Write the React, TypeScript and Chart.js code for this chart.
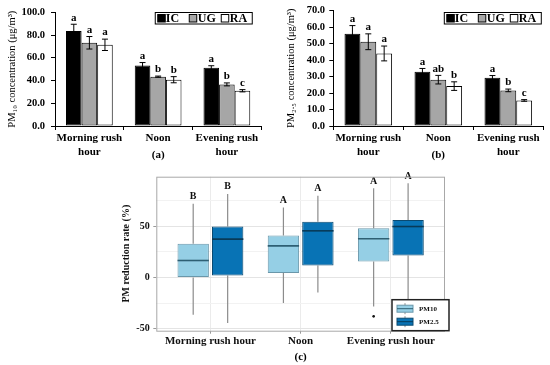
import React, { useEffect, useRef } from "react";
import { Chart, registerables } from "chart.js";
Chart.register(...registerables);

const SERIF = "'Liberation Serif', 'Times New Roman', serif";

// ---------- (a) / (b) bar panels ----------
const periodLabels = [["Morning rush", "hour"], ["Noon"], ["Evening rush", "hour"]];
const siteNames = ["IC", "UG", "RA"];
const siteColors = ["#000000", "#A6A6A6", "#FFFFFF"];

const pm10IC = [83.5, 53.3, 51.2];
const pm10UG = [73.2, 43.4, 36.6];
const pm10RA = [71.4, 40.7, 31.0];
const pm10ICErr = [6.0, 2.5, 1.8];
const pm10UGErr = [5.5, 0.5, 1.3];
const pm10RAErr = [5.0, 2.7, 1.0];
const pm10ICSig = ["a", "a", "a"];
const pm10UGSig = ["a", "b", "b"];
const pm10RASig = ["a", "b", "c"];
const pm10Ticks = [0, 20, 40, 60, 80, 100];

const pm25IC = [55.9, 32.9, 29.2];
const pm25UG = [51.1, 28.1, 21.6];
const pm25RA = [44.0, 24.2, 15.5];
const pm25ICErr = [5.0, 2.0, 1.4];
const pm25UGErr = [4.8, 2.6, 0.8];
const pm25RAErr = [4.5, 2.6, 0.5];
const pm25ICSig = ["a", "a", "a"];
const pm25UGSig = ["a", "ab", "b"];
const pm25RASig = ["a", "b", "c"];
const pm25Ticks = [0, 10, 20, 30, 40, 50, 60, 70];

// ---------- (c) box plot ----------
const boxPeriods = ["Morning rush hour", "Noon", "Evening rush hour"];
const boxSeries = ["PM10", "PM2.5"];
const pm10Min = [-36.4, -25.0, -28.3];
const pm10Q1 = [0.0, 4.3, 15.6];
const pm10Med = [16.6, 30.9, 37.8];
const pm10Q3 = [32.9, 41.0, 48.2];
const pm10Max = [72.0, 68.3, 87.3];
const pm10Outliers = [[], [], [-38.0]];
const pm10BoxSig = ["B", "A", "A"];
const pm25Min = [-44.5, -14.7, -30.0];
const pm25Q1 = [2.0, 11.7, 21.5];
const pm25Med = [37.5, 45.6, 49.8];
const pm25Q3 = [49.8, 54.4, 56.3];
const pm25Max = [81.7, 80.0, 92.1];
const pm25Outliers = [[], [], []];
const pm25BoxSig = ["B", "A", "A"];
const boxTicksY = [-50, -25, 0, 25, 50, 75];

type BarPanel = {
  values: number[][];
  errors: number[][];
  sig: string[][];
  ticks: number[];
  max: number;
  yTitle: string;
  yWidth: number;
  padRight: number;
  tickPad: number;
  titlePad: number;
  panel: string;
  legendRightInset: number;
};

function barExtras(p: BarPanel) {
  return {
    id: "barExtras",
    afterDatasetsDraw(chart: any) {
      const { ctx } = chart;
      const y = chart.scales.y;
      ctx.save();
      chart.data.datasets.forEach((ds: any, di: number) => {
        const meta = chart.getDatasetMeta(di);
        meta.data.forEach((el: any, j: number) => {
          const v = ds.data[j];
          const e = p.errors[di][j];
          const top = y.getPixelForValue(v + e);
          const bot = y.getPixelForValue(v - e);
          ctx.strokeStyle = "#000";
          ctx.lineWidth = 1;
          ctx.beginPath();
          ctx.moveTo(el.x, top);
          ctx.lineTo(el.x, bot);
          ctx.moveTo(el.x - 3, top);
          ctx.lineTo(el.x + 3, top);
          ctx.moveTo(el.x - 3, bot);
          ctx.lineTo(el.x + 3, bot);
          ctx.stroke();
          ctx.fillStyle = "#000";
          ctx.font = `bold 11px ${SERIF}`;
          ctx.textAlign = "center";
          ctx.textBaseline = "bottom";
          ctx.fillText(p.sig[di][j], el.x, top - 1);
        });
      });
      ctx.restore();
    },
    afterDraw(chart: any) {
      const { ctx, chartArea } = chart;
      ctx.save();
      // legend
      const w = 97;
      const h = 11.5;
      const lx = chartArea.right - p.legendRightInset - w;
      const ly = 12.5;
      ctx.fillStyle = "#fff";
      ctx.fillRect(lx, ly, w, h);
      ctx.strokeStyle = "#000";
      ctx.lineWidth = 1;
      ctx.strokeRect(lx, ly, w, h);
      const sqOff = [2.5, 34, 66];
      const txOff = [10.5, 42.5, 74.5];
      siteNames.forEach((name, i) => {
        ctx.fillStyle = siteColors[i];
        ctx.fillRect(lx + sqOff[i], ly + 2, 7.5, 7.5);
        ctx.strokeStyle = "#000";
        ctx.strokeRect(lx + sqOff[i], ly + 2, 7.5, 7.5);
        ctx.fillStyle = "#000";
        ctx.font = `bold 12px ${SERIF}`;
        ctx.textAlign = "left";
        ctx.textBaseline = "middle";
        ctx.fillText(name, lx + txOff[i], ly + h / 2 + 0.5);
      });
      // panel label
      ctx.font = `bold 11px ${SERIF}`;
      ctx.textAlign = "center";
      ctx.textBaseline = "middle";
      ctx.fillText(p.panel, chart.scales.x.getPixelForValue(1), chartArea.bottom + 29);
      ctx.restore();
    },
  };
}

function barConfig(p: BarPanel): any {
  return {
    type: "bar",
    data: {
      labels: periodLabels,
      datasets: p.values.map((vals, i) => ({
        label: siteNames[i],
        data: vals,
        backgroundColor: siteColors[i],
        borderColor: "#000",
        borderWidth: 1,
        borderSkipped: false,
        categoryPercentage: 0.68,
        barPercentage: 1,
      })),
    },
    options: {
      responsive: false,
      animation: false,
      devicePixelRatio: 1,
      layout: { padding: { top: 7, right: p.padRight, left: 0, bottom: 0 } },
      plugins: { legend: { display: false }, tooltip: { enabled: false } },
      scales: {
        x: {
          grid: { offset: true, drawOnChartArea: false, tickLength: 4, color: "#000" },
          border: { color: "#000" },
          ticks: {
            font: { family: SERIF, weight: "bold", size: 11, lineHeight: 1.27 },
            color: "#000",
            padding: 1,
            maxRotation: 0,
            autoSkip: false,
          },
          afterFit: (s: any) => {
            s.height = 44;
          },
        },
        y: {
          min: 0,
          max: p.max,
          afterBuildTicks: (s: any) => {
            s.ticks = p.ticks.map((v) => ({ value: v }));
          },
          ticks: {
            callback: (v: any) => Number(v).toFixed(1),
            font: { family: SERIF, weight: "bold", size: 10.5 },
            color: "#000",
            padding: p.tickPad,
          },
          grid: { drawOnChartArea: false, tickLength: 4, color: "#000" },
          border: { color: "#000" },
          title: {
            display: true,
            text: p.yTitle,
            font: { family: SERIF, size: 10.5 },
            color: "#000",
            padding: { top: p.titlePad, bottom: 0 },
          },
          afterFit: (s: any) => {
            s.width = p.yWidth;
          },
        },
      },
    },
    plugins: [barExtras(p)],
  };
}

const boxFill = ["#95CFE5", "#0873B5"];
const boxBorder = ["#6A97AA", "#0B4A70"];
const boxMedian = ["#2E5F73", "#083A58"];

function boxExtras() {
  const mins = [pm10Min, pm25Min];
  const maxs = [pm10Max, pm25Max];
  const meds = [pm10Med, pm25Med];
  const outs = [pm10Outliers, pm25Outliers];
  const sigs = [pm10BoxSig, pm25BoxSig];
  const q1s = [pm10Q1, pm25Q1];
  const q3s = [pm10Q3, pm25Q3];
  return {
    id: "boxExtras",
    beforeDatasetsDraw(chart: any) {
      const { ctx } = chart;
      const y = chart.scales.y;
      ctx.save();
      ctx.strokeStyle = "#8C8C8C";
      ctx.lineWidth = 1.2;
      chart.data.datasets.forEach((_ds: any, di: number) => {
        chart.getDatasetMeta(di).data.forEach((el: any, j: number) => {
          ctx.beginPath();
          ctx.moveTo(el.x, y.getPixelForValue(q3s[di][j]));
          ctx.lineTo(el.x, y.getPixelForValue(maxs[di][j]));
          ctx.moveTo(el.x, y.getPixelForValue(q1s[di][j]));
          ctx.lineTo(el.x, y.getPixelForValue(mins[di][j]));
          ctx.stroke();
        });
      });
      ctx.restore();
    },
    afterDatasetsDraw(chart: any) {
      const { ctx } = chart;
      const y = chart.scales.y;
      ctx.save();
      chart.data.datasets.forEach((_ds: any, di: number) => {
        chart.getDatasetMeta(di).data.forEach((el: any, j: number) => {
          const my = y.getPixelForValue(meds[di][j]);
          ctx.strokeStyle = boxMedian[di];
          ctx.lineWidth = 1.6;
          ctx.beginPath();
          ctx.moveTo(el.x - el.width / 2, my);
          ctx.lineTo(el.x + el.width / 2, my);
          ctx.stroke();
          ctx.fillStyle = "#111";
          outs[di][j].forEach((o: number) => {
            ctx.beginPath();
            ctx.arc(el.x, y.getPixelForValue(o), 1.3, 0, Math.PI * 2);
            ctx.fill();
          });
          ctx.font = `bold 10px ${SERIF}`;
          ctx.textAlign = "center";
          ctx.textBaseline = "bottom";
          ctx.fillText(sigs[di][j], el.x, y.getPixelForValue(maxs[di][j]) - 2);
        });
      });
      ctx.restore();
    },
    afterDraw(chart: any) {
      const { ctx, chartArea } = chart;
      ctx.save();
      ctx.strokeStyle = "#A8A8A8";
      ctx.lineWidth = 1;
      ctx.strokeRect(chartArea.left + 0.5, chartArea.top + 0.5, chartArea.right - chartArea.left - 1, chartArea.bottom - chartArea.top);
      // legend
      const w = 57;
      const h = 31;
      const lx = chartArea.right + 4 - w;
      const ly = chartArea.bottom - h;
      ctx.fillStyle = "#fff";
      ctx.fillRect(lx, ly, w, h);
      ctx.strokeStyle = "#222";
      ctx.lineWidth = 1.5;
      ctx.strokeRect(lx, ly, w, h);
      boxSeries.forEach((name, i) => {
        const cy = ly + 9 + i * 13;
        const gx = lx + 5;
        ctx.strokeStyle = "#8C8C8C";
        ctx.lineWidth = 1;
        ctx.beginPath();
        ctx.moveTo(gx + 8, cy - 5.5);
        ctx.lineTo(gx + 8, cy + 5.5);
        ctx.stroke();
        ctx.fillStyle = boxFill[i];
        ctx.fillRect(gx, cy - 3.5, 16, 7);
        ctx.strokeStyle = boxBorder[i];
        ctx.strokeRect(gx, cy - 3.5, 16, 7);
        ctx.strokeStyle = boxMedian[i];
        ctx.beginPath();
        ctx.moveTo(gx, cy);
        ctx.lineTo(gx + 16, cy);
        ctx.stroke();
        ctx.fillStyle = "#111";
        ctx.font = `bold 7px ${SERIF}`;
        ctx.textAlign = "left";
        ctx.textBaseline = "middle";
        ctx.fillText(name, lx + 27, cy + 0.5);
      });
      ctx.fillStyle = "#000";
      ctx.font = `bold 11px ${SERIF}`;
      ctx.textAlign = "center";
      ctx.textBaseline = "middle";
      ctx.fillText("(c)", chart.scales.x.getPixelForValue(2), chartArea.bottom + 26);
      ctx.restore();
    },
  };
}

function boxConfig(): any {
  const q1s = [pm10Q1, pm25Q1];
  const q3s = [pm10Q3, pm25Q3];
  return {
    type: "bar",
    data: {
      datasets: boxSeries.map((name, i) => ({
        label: name,
        data: boxPeriods.map((_, j) => ({ x: j + 1, y: [q1s[i][j], q3s[i][j]] })),
        backgroundColor: boxFill[i],
        borderColor: boxBorder[i],
        borderWidth: 1,
        borderSkipped: false,
        categoryPercentage: 0.764,
        barPercentage: 0.91,
      })),
    },
    options: {
      responsive: false,
      animation: false,
      devicePixelRatio: 1,
      layout: { padding: { top: 11.7, right: 7, left: 0, bottom: 0 } },
      plugins: { legend: { display: false }, tooltip: { enabled: false } },
      scales: {
        x: {
          type: "linear",
          min: 0.4,
          max: 3.6,
          offset: false,
          afterBuildTicks: (s: any) => {
            s.ticks = boxPeriods.map((_, j) => ({ value: j + 1 }));
          },
          ticks: {
            callback: (v: any) => boxPeriods[Math.round(Number(v)) - 1] ?? "",
            font: { family: SERIF, weight: "bold", size: 11, lineHeight: 1.2 },
            color: "#111",
            padding: 1,
            maxRotation: 0,
            autoSkip: false,
          },
          grid: { offset: false, color: "#EBEBEB", tickColor: "#9A9A9A", tickLength: 3 },
          border: { display: false },
          afterFit: (s: any) => {
            s.height = 34.3;
          },
        },
        y: {
          min: -52,
          max: 98.5,
          afterBuildTicks: (s: any) => {
            s.ticks = boxTicksY.map((v) => ({ value: v }));
          },
          ticks: {
            callback: (v: any) => (Number(v) % 50 === 0 ? String(v) : ""),
            font: { family: SERIF, weight: "bold", size: 10 },
            color: "#111",
            padding: 3.6,
          },
          grid: {
            color: (c: any) => (c.tick && c.tick.value % 50 === 0 ? "#E4E4E4" : "#F2F2F2"),
            tickColor: (c: any) => (c.tick && c.tick.value % 50 === 0 ? "#9A9A9A" : "rgba(0,0,0,0)"),
            tickLength: 3,
          },
          border: { display: false },
          title: {
            display: true,
            text: "PM reduction rate (%)",
            font: { family: SERIF, weight: "bold", size: 10 },
            color: "#111",
            padding: { top: 8, bottom: 0 },
          },
          afterFit: (s: any) => {
            s.width = 44.3;
          },
        },
      },
    },
    plugins: [boxExtras()],
  };
}

function ChartCanvas({ left, top, width, height, make }: { left: number; top: number; width: number; height: number; make: () => any }) {
  const ref = useRef<HTMLCanvasElement | null>(null);
  useEffect(() => {
    if (!ref.current) return;
    const chart = new Chart(ref.current, make());
    return () => chart.destroy();
  }, []);
  return (
    <canvas
      ref={ref}
      width={width}
      height={height}
      style={{ position: "absolute", left, top, width, height }}
    />
  );
}

const panelA: BarPanel = {
  values: [pm10IC, pm10UG, pm10RA],
  errors: [pm10ICErr, pm10UGErr, pm10RAErr],
  sig: [pm10ICSig, pm10UGSig, pm10RASig],
  ticks: pm10Ticks,
  max: 100,
  yTitle: "PM₁₀ concentration (μg/m³)",
  yWidth: 55,
  padRight: 13.75,
  tickPad: 6,
  titlePad: 6,
  panel: "(a)",
  legendRightInset: 9,
};

const panelB: BarPanel = {
  values: [pm25IC, pm25UG, pm25RA],
  errors: [pm25ICErr, pm25UGErr, pm25RAErr],
  sig: [pm25ICSig, pm25UGSig, pm25RASig],
  ticks: pm25Ticks,
  max: 70,
  yTitle: "PM₂.₅ concentration (μg/m³)",
  yWidth: 58.3,
  padRight: 6.7,
  tickPad: 4.3,
  titlePad: 10.4,
  panel: "(b)",
  legendRightInset: 2,
};

export default function App() {
  return (
    <div style={{ position: "absolute", left: 0, top: 0, width: 550, height: 365, background: "#fff", overflow: "hidden" }}>
      <ChartCanvas left={0} top={0} width={275} height={170} make={() => barConfig(panelA)} />
      <ChartCanvas left={275} top={0} width={275} height={170} make={() => barConfig(panelB)} />
      <ChartCanvas left={112} top={165} width={340} height={200} make={boxConfig} />
    </div>
  );
}
